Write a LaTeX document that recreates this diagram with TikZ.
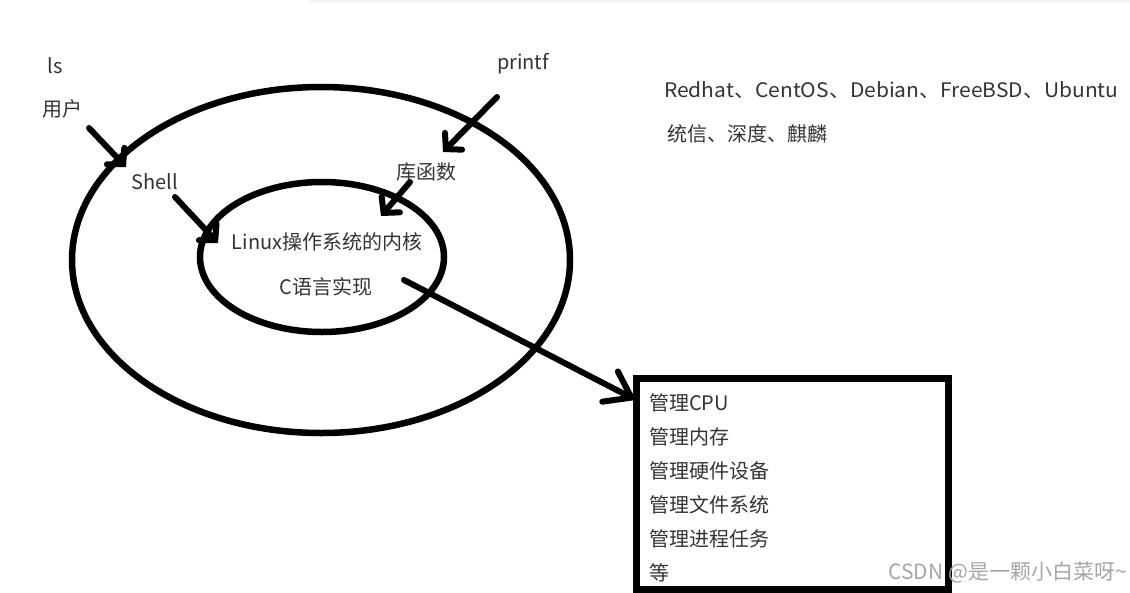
\documentclass[tikz,border=0pt]{standalone}
\usepackage{fontspec}
\setmainfont{Noto Sans CJK SC}
\usetikzlibrary{arrows.meta}
\begin{document}
\begin{tikzpicture}[x=1pt,y=-1pt,
  lbl/.style={inner sep=0pt, text=black!80, font=\fontsize{20}{24}\selectfont},
  ring/.style={line width=6.5pt, draw=black},
  arr/.style={line width=6pt, line cap=round, -{Straight Barb[length=11pt,width=24pt,line cap=round]}},
  bigarr/.style={line width=6pt, line cap=round, -{Straight Barb[length=24pt,width=34pt,line cap=round]}}
]
\useasboundingbox (0,0) rectangle (1130,592);
\fill[black!4] (310,0) rectangle (1130,3);
% rings
\draw[ring] (321,260) ellipse [x radius=249, y radius=173];
\draw[ring] (322,257) ellipse [x radius=122, y radius=75];
% labels
\node[lbl] (ls) at (55,66) {ls};
\node[lbl] (user) at (62,109) {用户};
\node[lbl] (shell) at (155,182) {Shell};
\node[lbl] (printf) at (523,64) {printf};
\node[lbl] (lib) at (426,172) {库函数};
\node[lbl] (kernel) at (327,242) {Linux操作系统的内核};
\node[lbl] (clang) at (326,287) {C语言实现};
\node[lbl, anchor=west, xscale=1.05] (distro) at (664,90) {Redhat、CentOS、Debian、FreeBSD、Ubuntu};
\node[lbl, anchor=west] (cn) at (667,134) {统信、深度、麒麟};
% box
\node[draw, line width=7pt, minimum width=312pt, minimum height=211pt, anchor=north west, inner sep=0pt] (box) at (633,375) {};
\node[lbl, anchor=west] (t1) at (649,403) {管理CPU};
\node[lbl, anchor=west] (t2) at (649,437) {管理内存};
\node[lbl, anchor=west] (t3) at (649,471) {管理硬件设备};
\node[lbl, anchor=west] (t4) at (649,505) {管理文件系统};
\node[lbl, anchor=west] (t5) at (649,539) {管理进程任务};
\node[lbl, anchor=west] (t6) at (649,573) {等};
% watermark
\node[inner sep=0pt, text=black!35, font=\fontsize{21}{24}\selectfont, anchor=east] (wm) at (1127,572) {CSDN @是一颗小白菜呀\textasciitilde};
% connector endpoints
\coordinate (a1s) at (89,128);  \coordinate (a1e) at (126,167);
\coordinate (a2s) at (175,197); \coordinate (a2e) at (218,243);
\coordinate (a3s) at (497,97);  \coordinate (a3e) at (443,152);
\coordinate (a4s) at (410,182); \coordinate (a4e) at (381,216);
\coordinate (a5s) at (404,280); \coordinate (a5e) at (636,400);
\draw[arr] (a1s) -- (a1e);
\draw[arr] (a2s) -- (a2e);
\draw[arr] (a3s) -- (a3e);
\draw[arr] (a4s) -- (a4e);
\draw[bigarr] (a5s) -- (a5e);
\end{tikzpicture}
\end{document}
